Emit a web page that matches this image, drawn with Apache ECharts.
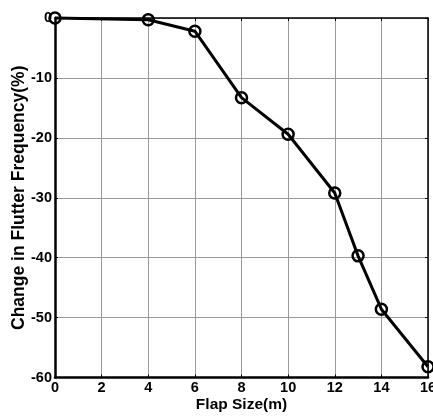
<!DOCTYPE html>
<html><head><meta charset="utf-8">
<script src="https://cdn.jsdelivr.net/npm/echarts@6/dist/echarts.min.js"></script>
<style>html,body{margin:0;padding:0;background:#fff}#c{width:433px;height:416px}</style>
</head><body><div id="c"></div>
<script>
var flapSize = [0, 4, 6, 8, 10, 12, 13, 14, 16];
var freqChange = [0, -0.3, -2.2, -13.3, -19.4, -29.2, -39.7, -48.6, -58.2];
var xTitle = 'Flap Size(m)';
var yTitle = 'Change in Flutter Frequency(%)';

var chart = echarts.init(document.getElementById('c'), null, {renderer: 'canvas'});
var font = 'Liberation Sans, Arial, sans-serif';
var data = flapSize.map(function (x, i) { return [x, freqChange[i]]; });
chart.setOption({
  animation: false,
  backgroundColor: '#fff',
  grid: {left: 55, right: 5, top: 18, bottom: 38.5, containLabel: false, outerBoundsMode: 'none'},
  xAxis: [{
    type: 'value', min: 0, max: 16, interval: 2, position: 'bottom',
    name: xTitle, nameLocation: 'middle', nameGap: 19, nameMoveOverlap: false,
    nameTextStyle: {fontFamily: font, fontWeight: 'bold', fontSize: 15.5, color: '#000'},
    axisLine: {show: true, onZero: false, lineStyle: {color: '#000', width: 2.5}},
    axisTick: {show: true, inside: true, length: 3, lineStyle: {color: '#000', width: 1}},
    axisLabel: {fontFamily: font, fontWeight: 'bold', fontSize: 14.5, color: '#000', margin: 3},
    splitLine: {show: true, lineStyle: {color: '#999', width: 1}}
  }, {
    type: 'value', min: 0, max: 16, interval: 2, position: 'top',
    axisLine: {show: true, onZero: false, lineStyle: {color: '#000', width: 1.5}},
    axisTick: {show: true, inside: true, length: 3, lineStyle: {color: '#000'}},
    axisLabel: {show: false}, splitLine: {show: false}
  }],
  yAxis: [{
    type: 'value', min: -60, max: 0, interval: 10, position: 'left',
    name: yTitle, nameLocation: 'middle', nameGap: 27, nameRotate: 90, nameMoveOverlap: false,
    nameTextStyle: {fontFamily: font, fontWeight: 'bold', fontSize: 17.5, color: '#000'},
    axisLine: {show: true, onZero: false, lineStyle: {color: '#000', width: 2.5}},
    axisTick: {show: true, inside: true, length: 3, lineStyle: {color: '#000'}},
    axisLabel: {fontFamily: font, fontWeight: 'bold', fontSize: 14.5, color: '#000', margin: 3},
    splitLine: {show: true, lineStyle: {color: '#999', width: 1}}
  }, {
    type: 'value', min: -60, max: 0, interval: 10, position: 'right',
    axisLine: {show: true, onZero: false, lineStyle: {color: '#000', width: 1.5}},
    axisTick: {show: true, inside: true, length: 3, lineStyle: {color: '#000'}},
    axisLabel: {show: false}, splitLine: {show: false}
  }],
  series: [{
    type: 'line', xAxisIndex: 0, yAxisIndex: 0, data: data,
    lineStyle: {color: '#000', width: 3},
    symbol: 'circle', symbolSize: 11,
    itemStyle: {color: 'rgba(255,255,255,0)', borderColor: '#000', borderWidth: 2.5},
    clip: false, z: 5
  }]
});
</script></body></html>
